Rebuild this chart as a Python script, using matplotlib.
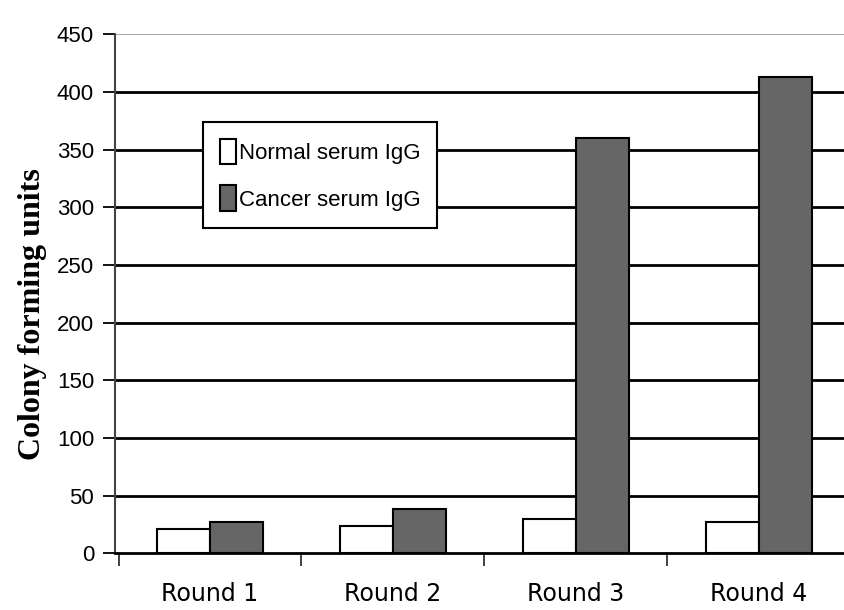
import numpy as np
import matplotlib.pyplot as plt

rounds = ['Round 1', 'Round 2', 'Round 3', 'Round 4']
normal_igg = [21, 24, 30, 27]
cancer_igg = [27, 38, 360, 413]
yticks = [0, 50, 100, 150, 200, 250, 300, 350, 400, 450]

sans = ['Liberation Sans', 'DejaVu Sans']

fig = plt.figure(figsize=(8.45, 6.1), dpi=100)
ax = fig.add_axes([0.136, 0.093, 0.87, 0.851])

x = np.arange(len(rounds))
w = 0.29
ax.bar(x - w/2, normal_igg, w, color='white', edgecolor='black', linewidth=1.5, zorder=3,
       label='Normal serum IgG')
ax.bar(x + w/2, cancer_igg, w, color='#666666', edgecolor='black', linewidth=1.5, zorder=3,
       label='Cancer serum IgG')

ax.set_ylim(0, 450)
ax.set_xlim(-0.52, 3.46)
ax.set_yticks(yticks)
ax.set_yticklabels([str(v) for v in yticks], family=sans, fontsize=16)

# category boundaries as x ticks, labels at centers
ax.set_xticks(np.arange(-0.5, 3.6, 1.0))
ax.set_xticklabels([])
ax.set_xticks(x, minor=True)
ax.set_xticklabels(rounds, minor=True, family='DejaVu Sans', fontsize=17)
ax.tick_params(axis='x', which='major', direction='out', length=9, width=1.3, color='#333333')
ax.tick_params(axis='x', which='minor', length=0, pad=21)
ax.tick_params(axis='y', direction='out', length=9, width=1.3, pad=6)

for v in yticks[1:-1]:
    ax.axhline(v, color='black', linewidth=2, zorder=1)
ax.axhline(450, color='#999999', linewidth=1.2, zorder=1)

ax.spines['top'].set_visible(False)
ax.spines['right'].set_visible(False)
ax.spines['left'].set_color('#444444')
ax.spines['left'].set_linewidth(1.5)
ax.spines['bottom'].set_linewidth(2)

ax.set_ylabel('Colony forming units', family='Liberation Serif', fontweight='bold',
              fontsize=23)
ax.yaxis.set_label_coords(-0.092, 0.46)

leg = ax.legend(loc='upper left', bbox_to_anchor=(203/845, 1 - 122/610),
                bbox_transform=fig.transFigure, prop={'family': sans, 'size': 16},
                fancybox=False, edgecolor='black', framealpha=1, handlelength=0.75,
                handleheight=1.4, handletextpad=0.1, borderpad=0.75, labelspacing=0.95,
                borderaxespad=0)
leg.get_frame().set_linewidth(1.5)
leg.set_zorder(5)

fig.savefig('out.png', dpi=100)
